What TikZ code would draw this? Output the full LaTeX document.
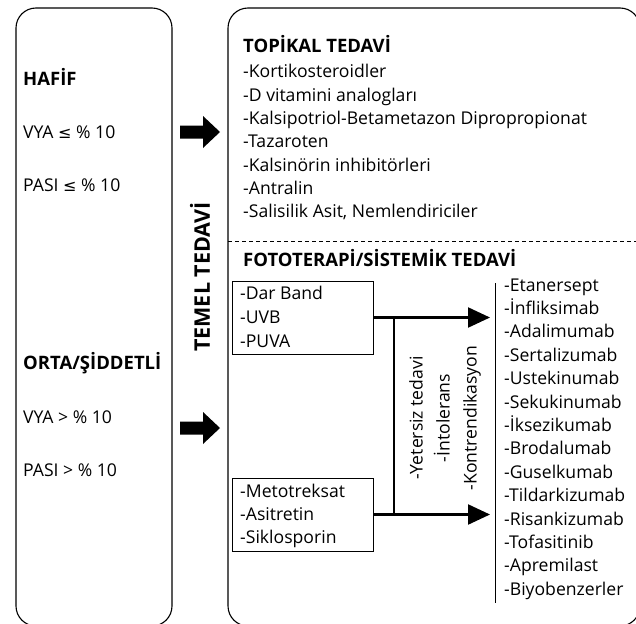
\documentclass[tikz,border=0pt]{standalone}
\usepackage{fontspec}
\setmainfont{Open Sans}
\newfontfamily\symfont{DejaVu Sans}
\usetikzlibrary{arrows.meta}
\tikzset{
  frame/.style={draw, line width=1.1pt, rounded corners=20pt},
  txt/.style={anchor=base west, inner sep=0pt, font=\fontsize{17.6}{20}\selectfont},
  ttl/.style={anchor=base west, inner sep=0pt, font=\fontsize{18.5}{20}\selectfont\bfseries},
  subbox/.style={draw, line width=0.9pt, inner sep=0pt, minimum width=141pt, minimum height=73pt},
  flow/.style={line width=2.2pt, -{Triangle[length=22pt,width=20pt]}},
  blockarrow/.style={fill=black},
  sep/.style={line width=0.9pt, dash pattern=on 4pt off 3pt},
}
\newcommand{\leqs}{{\symfont\fontsize{16}{17}\selectfont ≤}}
\begin{document}
\begin{tikzpicture}[x=1pt,y=-1pt]
\useasboundingbox (0,0) rectangle (636,623);
\begin{scope}
  \clip (0,0) rectangle (636,623);
  \draw[frame] (16,8) rectangle (172,626);
  \draw[frame] (228,8) rectangle (640,626);
\end{scope}
% left box texts
\node[ttl] (hafif) at (23,86) {HAFİF};
\node[txt] (vya1) at (23,138) {VYA \leqs\ \% 10};
\node[txt] (pasi1) at (23,191) {PASI \leqs\ \% 10};
\node[ttl] (orta) at (23,369) {ORTA/ŞİDDETLİ};
\node[txt] (vya2) at (23,423) {VYA > \% 10};
\node[txt] (pasi2) at (23,476) {PASI > \% 10};
% block arrows
\fill[blockarrow] (180,125.5) -- (203,125.5) -- (203,116) -- (220,132) -- (203,148) -- (203,138.5) -- (180,138.5) -- cycle;
\fill[blockarrow] (180,421.5) -- (203,421.5) -- (203,412) -- (220,428) -- (203,444) -- (203,434.5) -- (180,434.5) -- cycle;
% TEMEL TEDAVI
\node[rotate=90, inner sep=0pt, font=\fontsize{21.5}{24}\selectfont\bfseries] (temel) at (200,277) {TEMEL TEDAVİ};
% topical
\node[ttl] (topikal) at (243,53) {TOPİKAL TEDAVİ};
\foreach \t [count=\i from 0] in {-Kortikosteroidler,-D vitamini analogları,-Kalsipotriol-Betametazon Dipropropionat,-Tazaroten,-Kalsinörin inhibitörleri,-Antralin,{-Salisilik Asit, Nemlendiriciler}}
  \node[txt] (tp\i) at (243,{78+23.3*\i}) {\t};
% separator
\coordinate (sepL) at (228,241);
\coordinate (sepR) at (636,241);
\draw[sep] (sepL) -- (sepR);
% systemic
\node[ttl] (foto) at (243,266) {FOTOTERAPİ/SİSTEMİK TEDAVİ};
\node[subbox] (bx1) at (302.5,317.5) {};
\node[txt] (d1) at (240,299) {-Dar Band};
\node[txt] (d2) at (240,323) {-UVB};
\node[txt] (d3) at (240,347) {-PUVA};
\node[subbox] (bx2) at (302.5,514.5) {};
\node[txt] (m1) at (240,497) {-Metotreksat};
\node[txt] (m2) at (240,520) {-Asitretin};
\node[txt] (m3) at (240,543) {-Siklosporin};
% connectors
\coordinate (t1) at (490,317.5);
\coordinate (t2) at (490,514.5);
\coordinate (j1) at (394,317.5);
\coordinate (j2) at (394,514.5);
\draw[flow] (bx1.east) -- (t1);
\draw[flow] (bx2.east) -- (t2);
\draw[line width=2.2pt] (j1) -- (j2);
\node[rotate=90, inner sep=0pt, align=center, font=\fontsize{17.6}{27}\selectfont] (reason) at (445,418) {-Yetersiz tedavi\\-İntolerans\\-Kontrendikasyon};
% biologics list
\coordinate (vT) at (495,283);
\coordinate (vB) at (495,603);
\draw[line width=1pt] (vT) -- (vB);
\foreach \t [count=\i from 0] in {-Etanersept,-İnfliksimab,-Adalimumab,-Sertalizumab,-Ustekinumab,-Sekukinumab,-İksezikumab,-Brodalumab,-Guselkumab,-Tildarkizumab,-Risankizumab,-Tofasitinib,-Apremilast,-Biyobenzerler}
  \node[txt] (bio\i) at (504,{291+23.4*\i}) {\t};
\end{tikzpicture}
\end{document}
